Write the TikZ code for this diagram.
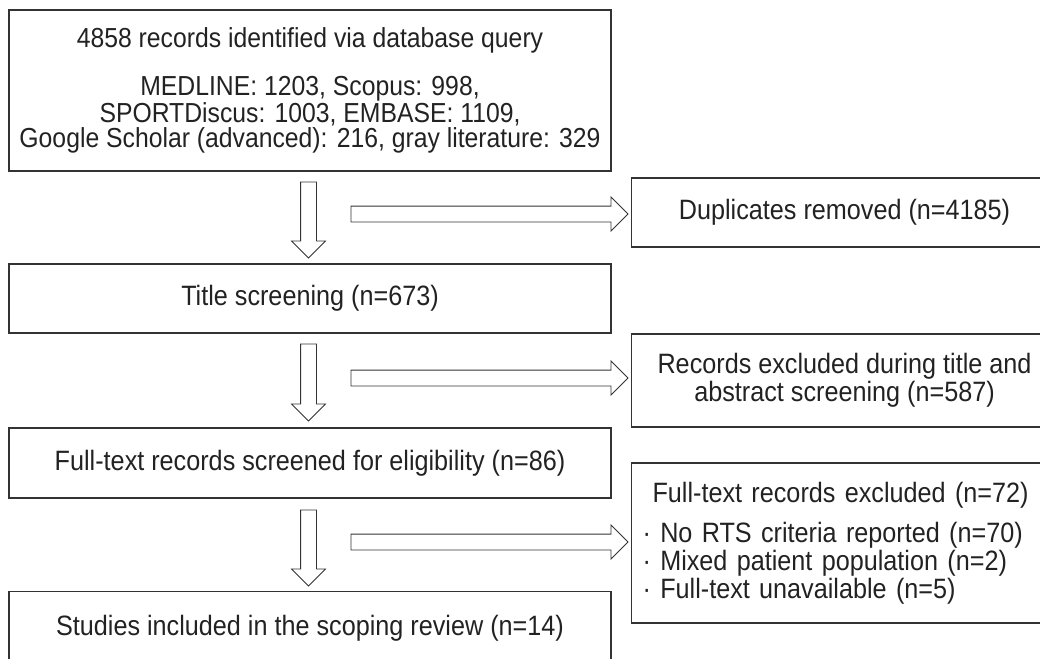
\documentclass[tikz,border=0pt]{standalone}
\usepackage{fontspec}
\setmainfont{Liberation Sans}[FakeStretch=0.9]
\usetikzlibrary{shapes.arrows}

\definecolor{ink}{HTML}{222222}
\definecolor{frame}{HTML}{333333}

\tikzset{
  box/.style={draw=frame, line width=1.1pt, text=ink, align=center, inner sep=0pt},
  sidebox/.style={box, minimum width=426pt, anchor=west},
  blockarrow/.style={single arrow, draw=frame, line width=0.8pt, fill=white,
    single arrow head extend=9pt, single arrow tip angle=90,
    inner xsep=0pt, inner ysep=7.5pt},
}
\newcommand{\flowfont}{\fontsize{28}{25}\selectfont}
\newcommand{\queryfont}{\fontsize{27.5}{25.5}\selectfont}
\newcommand{\sidefont}{\fontsize{28}{28}\selectfont}

\begin{document}
\begin{tikzpicture}[x=1pt, y=-1pt, font=\flowfont]
  \useasboundingbox (0,0) rectangle (1040,658);
  \clip (0,0) rectangle (1040,658);

  % main column
  \node[box, minimum width=602pt, minimum height=161pt, font=\queryfont] (ident) at (310,90.5)
    {4858 records identified via database query\\[23pt]
     MEDLINE: 1203, Scopus: 998,\\
     SPORTDiscus: 1003, EMBASE: 1109,\\
     Google Scholar (advanced): 216, gray literature: 329};
  \node[box, minimum width=602pt, minimum height=69pt] (title) at (310,298.5)
    {Title screening (n=673)};
  \node[box, minimum width=602pt, minimum height=70pt] (full) at (310,463)
    {Full-text records screened for eligibility (n=86)};
  \node[box, minimum width=602pt, minimum height=140pt, anchor=north] (incl) at (310,591) {};
  \node[text=ink] (incltext) at (310,628) {Studies included in the scoping review (n=14)};

  % exclusions on the right
  \node[sidebox, minimum height=69pt] (dup) at (631,212.5)
    {Duplicates removed (n=4185)};
  \node[sidebox, minimum height=93pt, font=\sidefont] (excl1) at (631,380.5)
    {Records excluded during title and\\abstract screening (n=587)};
  \node[sidebox, minimum height=160pt, font=\sidefont, align=left,
        text width=404pt, inner xsep=11pt] (excl2) at (631,543)
    {\hspace{10pt}Full-text records excluded (n=72)\\[12pt]
     · No RTS criteria reported (n=70)\\
     · Mixed patient population (n=2)\\
     · Full-text unavailable (n=5)};

  % hollow arrows down the main column
  \node[blockarrow, minimum height=76pt, rotate=-90] (d1) at (308.5,216) {};
  \node[blockarrow, minimum height=77pt, rotate=-90] (d2) at (308.5,378.5) {};
  \node[blockarrow, minimum height=76pt, rotate=-90] (d3) at (308.5,544) {};

  % hollow arrows across to the exclusions
  \node[blockarrow, minimum height=277pt] (r1) at (485.5,214) {};
  \node[blockarrow, minimum height=277pt] (r2) at (485.5,378) {};
  \node[blockarrow, minimum height=277pt] (r3) at (485.5,542) {};
\end{tikzpicture}
\end{document}
